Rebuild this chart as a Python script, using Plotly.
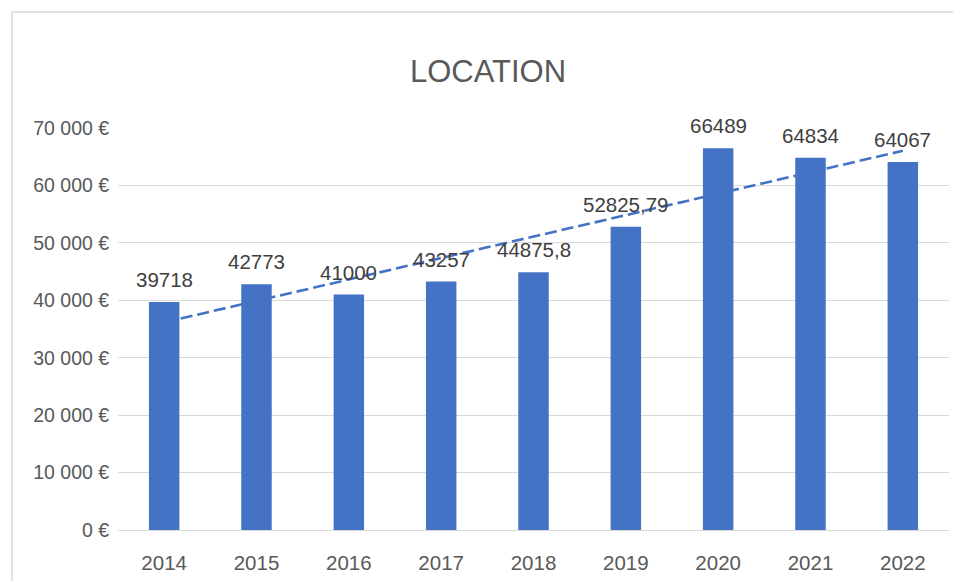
import numpy as np
import plotly.graph_objects as go

years = ["2014", "2015", "2016", "2017", "2018", "2019", "2020", "2021", "2022"]
rental = [39718, 42773, 41000, 43257, 44875.8, 52825.79, 66489, 64834, 64067]
y_ticks = [0, 10000, 20000, 30000, 40000, 50000, 60000, 70000]
title_text = "LOCATION"

BAR = "#4472C4"
FONT = "Liberation Sans, Arial, sans-serif"

def fr_label(v):
    s = f"{v:.2f}".rstrip("0").rstrip(".")
    return s.replace(".", ",")

def tick_label(v):
    return f"{int(v):,}".replace(",", " ") + " €"

# linear trendline (Excel-style) over category index
idx = np.arange(1, len(rental) + 1)
slope, intercept = np.polyfit(idx, rental, 1)
trend = slope * idx + intercept

fig = go.Figure()
fig.add_trace(go.Scatter(
    x=years, y=trend, mode="lines", yaxis="y",
    line=dict(color=BAR, width=2.6, dash="12px,5px"),
    hoverinfo="skip", showlegend=False,
))
fig.add_trace(go.Bar(
    x=years, y=rental, yaxis="y2",
    marker=dict(color=BAR, line=dict(width=0)),
    showlegend=False,
))

annotations = [
    dict(x=i, y=v, xref="x", yref="y2", text=fr_label(v), showarrow=False,
         yanchor="bottom", yshift=9,
         font=dict(family=FONT, size=20.5, color="#404040"))
    for i, v in enumerate(rental)
]

W, H = 953, 581
L, R, T, B = 118, 4, 128, 51
pw, ph = W - L - R, H - T - B
def px_x(p):
    return (p - L) / pw
def px_y(p):
    return (H - B - p) / ph

shapes = [
    dict(type="line", xref="paper", yref="paper", x0=px_x(12), x1=px_x(12),
         y0=px_y(12), y1=px_y(H + 5), line=dict(color="#D9D9D9", width=1.5)),
    dict(type="line", xref="paper", yref="paper", x0=px_x(12), x1=px_x(W + 5),
         y0=px_y(12), y1=px_y(12), line=dict(color="#D9D9D9", width=1.5)),
]

axis_range = [0, max(y_ticks)]
fig.update_layout(
    width=W, height=H,
    margin=dict(l=L, r=R, t=T, b=B, pad=0),
    paper_bgcolor="white", plot_bgcolor="white",
    bargap=0.67,
    title=dict(text=title_text, x=488 / W, xref="container", xanchor="center",
               y=1 - 71 / H, yref="container", yanchor="middle",
               font=dict(family=FONT, size=31, color="#595959")),
    xaxis=dict(type="category", range=[-0.5, len(years) - 0.5],
               showgrid=False, zeroline=False,
               showline=False, ticks="outside", ticklen=14,
               tickcolor="rgba(0,0,0,0)",
               tickfont=dict(family=FONT, size=20.5, color="#595959")),
    yaxis=dict(range=axis_range, tickvals=y_ticks,
               ticktext=[tick_label(v) for v in y_ticks],
               showgrid=True, gridcolor="#D9D9D9", gridwidth=1.3,
               zeroline=True, zerolinecolor="#D9D9D9", zerolinewidth=1.3,
               showline=False, ticks="outside", ticklen=4,
               tickcolor="rgba(0,0,0,0)",
               tickfont=dict(family=FONT, size=19.5, color="#595959")),
    yaxis2=dict(range=axis_range, overlaying="y", visible=False),
    annotations=annotations,
    shapes=shapes,
)

fig.write_html("out.html", config={"displayModeBar": False},
               post_script="document.body.style.margin='0';")
